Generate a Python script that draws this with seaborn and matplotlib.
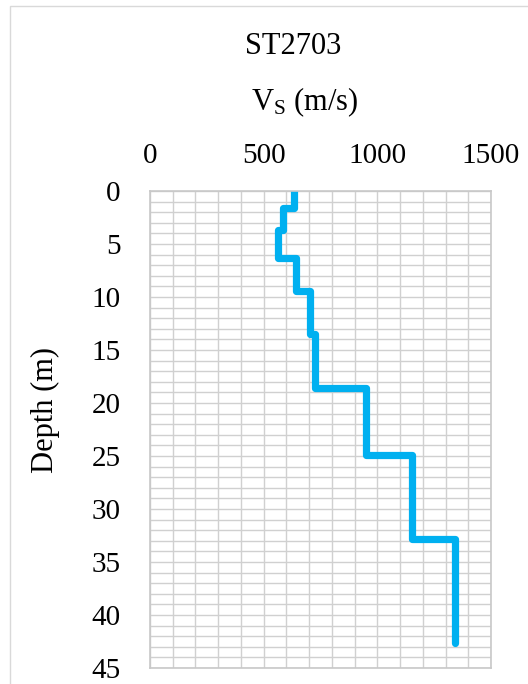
import matplotlib
matplotlib.use("Agg")
import matplotlib.pyplot as plt
from matplotlib.patches import Rectangle
from matplotlib.ticker import MultipleLocator
import numpy as np
import pandas as pd
import seaborn as sns

# Shear-wave velocity profile, station ST2703
station = "ST2703"
layer_top_depth = [0.0, 1.6, 3.7, 6.3, 9.4, 13.5, 18.6, 24.9, 32.8]  # m
profile_end_depth = 42.6  # m
layer_vs = [633, 584, 563, 644, 704, 727, 949, 1152, 1343]  # m/s
x_ticks = [0, 500, 1000, 1500]
y_ticks = [0, 5, 10, 15, 20, 25, 30, 35, 40, 45]

# Step profile: each layer contributes its top and bottom point
bottoms = layer_top_depth[1:] + [profile_end_depth]
rows = []
for top, bot, v in zip(layer_top_depth, bottoms, layer_vs):
    rows.append({"vs": v, "depth": top})
    rows.append({"vs": v, "depth": bot})
df = pd.DataFrame(rows)

sns.set_theme(style="white")
plt.rcParams["font.family"] = ["Liberation Serif", "DejaVu Serif"]
plt.rcParams["mathtext.fontset"] = "custom"
plt.rcParams["mathtext.rm"] = "Liberation Serif"
plt.rcParams["mathtext.it"] = "Liberation Serif:italic"
plt.rcParams["text.color"] = "black"

W, H = 528, 684
fig = plt.figure(figsize=(W / 100, H / 100), dpi=100)
fig.patch.set_facecolor("white")

left, right, top, bottom = 150, 491, 191, 668
ax = fig.add_axes([left / W, 1 - bottom / H, (right - left) / W, (bottom - top) / H])

grid_color = "#D0D0D0"
ax.set_xlim(0, 1500)
ax.set_ylim(45, 0)
ax.xaxis.set_minor_locator(MultipleLocator(100))
ax.yaxis.set_minor_locator(MultipleLocator(1))
ax.set_xticks(x_ticks)
ax.set_yticks(y_ticks)
ax.grid(True, which="both", color=grid_color, linewidth=1.0)
ax.set_axisbelow(True)

sns.lineplot(data=df, x="vs", y="depth", sort=False, estimator=None,
             color="#00B0F0", linewidth=5.2, ax=ax,
             solid_capstyle="round", solid_joinstyle="round")

ax.xaxis.tick_top()
ax.tick_params(axis="both", which="both", length=0)
ax.tick_params(axis="x", labelsize=21, pad=16, labelcolor="black")
ax.tick_params(axis="y", labelsize=21, pad=21, labelcolor="black")
ax.set_xlabel("")
ax.set_ylabel("")
for s in ax.spines.values():
    s.set_color("#C8C8C8")
    s.set_linewidth(1.2)

# Titles and axis captions
fig.text(293 / W, 1 - 46 / H, station, ha="center", va="center",
         fontsize=22, color="black")
fig.text(305 / W, 1 - 102 / H, r"$\mathrm{V_S}$ (m/s)", ha="center", va="center",
         fontsize=22, color="black")
fig.text(45 / W, 1 - 410 / H, "Depth (m)", ha="center", va="center",
         rotation=90, fontsize=22, color="black")

# Chart-area border
fig.patches.append(Rectangle((10 / W, -0.5), 2.0, (1 - 6 / H) + 0.5,
                             transform=fig.transFigure, fill=False,
                             edgecolor="#D9D9D9", linewidth=1.0))

fig.savefig("out.png", dpi=100)
